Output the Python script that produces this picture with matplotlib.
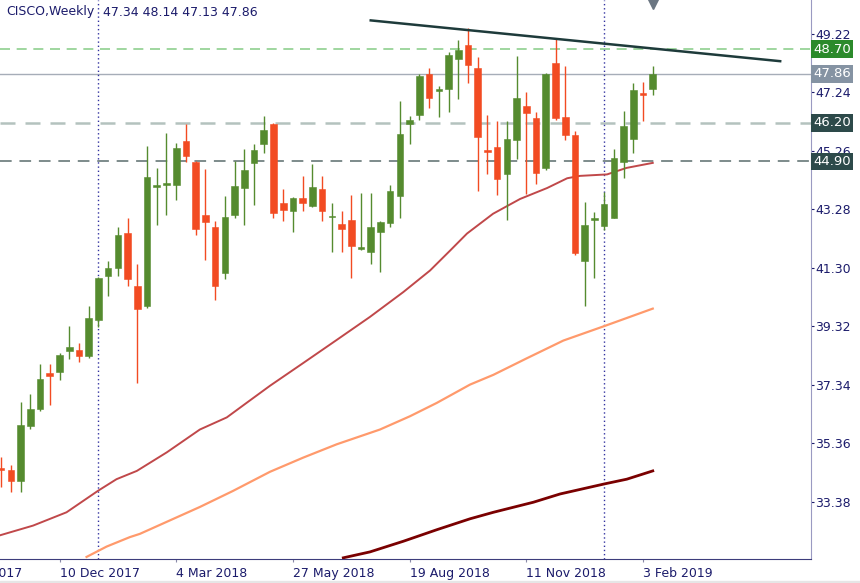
import matplotlib
matplotlib.use("Agg")
import matplotlib.pyplot as plt
import matplotlib.transforms as mtransforms
import numpy as np
import pandas as pd

# ---------------- data ----------------
symbol = "CISCO,Weekly"
last_ohlc = "47.34 48.14 47.13 47.86"
first_week = "2017-10-29"

opens = [34.49, 34.47, 34.08, 35.94, 36.54, 37.74, 37.79, 38.49, 38.52, 38.33,
         39.55, 41.02, 41.29, 42.47, 40.70, 40.01, 44.05, 44.10, 44.11, 45.59,
         44.88, 43.10, 42.67, 41.11, 43.09, 44.01, 44.83, 45.50, 46.15, 43.50,
         43.21, 43.67, 43.39, 43.96, 43.01, 42.78, 42.92, 41.93, 41.83, 42.50,
         42.80, 43.73, 46.16, 46.48, 47.87, 47.28, 47.34, 48.35, 48.85, 48.06,
         45.26, 45.40, 44.46, 45.63, 46.78, 46.37, 44.69, 48.24, 46.40, 45.81,
         41.52, 42.92, 42.70, 43.00, 44.87, 45.67, 47.18, 47.34]
highs = [34.89, 34.62, 36.77, 37.02, 38.05, 38.05, 38.43, 39.33, 38.77, 40.01,
         40.99, 41.54, 42.69, 42.99, 41.42, 45.41, 44.67, 45.85, 45.51, 46.16,
         44.90, 44.63, 42.89, 43.72, 44.93, 45.32, 45.48, 46.42, 46.19, 43.96,
         43.70, 44.41, 44.80, 44.41, 43.50, 43.22, 43.78, 43.83, 43.82, 42.89,
         44.11, 46.93, 46.42, 47.85, 48.05, 47.45, 48.61, 49.02, 49.41, 48.44,
         46.48, 46.25, 46.25, 48.47, 47.26, 46.56, 47.90, 49.08, 48.14, 45.94,
         43.51, 43.20, 43.87, 45.32, 46.61, 47.54, 47.57, 48.14]
lows = [33.88, 33.73, 33.73, 35.86, 36.45, 36.67, 37.51, 38.21, 38.12, 38.25,
        39.31, 40.34, 41.02, 40.68, 37.39, 39.95, 42.75, 43.10, 43.59, 44.88,
        42.42, 41.58, 40.20, 40.91, 43.00, 42.74, 43.42, 45.17, 42.98, 42.89,
        42.52, 43.21, 43.35, 42.89, 41.82, 41.82, 40.97, 41.90, 41.44, 41.15,
        42.67, 43.00, 45.49, 46.31, 46.72, 46.39, 46.57, 47.00, 47.55, 43.90,
        44.48, 43.77, 42.93, 44.98, 43.81, 44.13, 44.60, 46.31, 45.61, 41.75,
        40.01, 40.97, 42.58, 42.98, 44.35, 45.19, 46.25, 47.13]
closes = [34.46, 34.08, 35.97, 36.54, 37.55, 37.65, 38.34, 38.61, 38.33, 39.60,
          40.95, 41.30, 42.42, 40.91, 39.91, 44.38, 44.08, 44.13, 45.35, 45.08,
          42.60, 42.85, 40.68, 43.03, 44.07, 44.60, 45.28, 45.95, 43.16, 43.26,
          43.67, 43.49, 44.04, 43.21, 43.05, 42.60, 42.03, 42.02, 42.67, 42.84,
          43.89, 45.83, 46.29, 47.80, 47.04, 47.35, 48.49, 48.66, 48.15, 45.74,
          45.22, 44.29, 45.67, 47.04, 46.55, 44.52, 47.87, 46.38, 45.81, 41.79,
          42.76, 42.95, 43.45, 45.01, 46.11, 47.31, 47.16, 47.86]

# moving averages: (weeks since first candle, value)
ma_fast_weeks = [-0.14, 3.28, 6.72, 9.97, 11.86, 13.95, 17.04, 20.43, 23.2, 25.27,
                 27.64, 31.06, 34.5, 37.92, 41.35, 44.1, 46.15, 47.9, 50.58, 53.36,
                 56.14, 58.2, 59.5, 62.3, 64.3, 67.0]
ma_fast_vals = [32.25, 32.58, 33.03, 33.76, 34.15, 34.43, 35.06, 35.83, 36.24, 36.74,
                37.31, 38.08, 38.86, 39.64, 40.48, 41.21, 41.88, 42.46, 43.13, 43.63,
                44.00, 44.33, 44.41, 44.46, 44.68, 44.85]
ma_mid_weeks = [8.78, 10.84, 13.23, 14.26, 17.04, 20.43, 23.82, 27.64, 31.06, 34.5,
                38.95, 42.04, 44.79, 48.21, 50.61, 54.05, 57.81, 62.03, 67.0]
ma_mid_vals = [31.52, 31.87, 32.19, 32.30, 32.71, 33.21, 33.75, 34.40, 34.88, 35.33,
               35.83, 36.28, 36.73, 37.35, 37.68, 38.24, 38.84, 39.33, 39.92]
ma_slow_weeks = [35.18, 37.92, 41.35, 44.79, 48.21, 50.61, 54.72, 57.47, 62.03, 64.33, 67.0]
ma_slow_vals = [31.49, 31.69, 32.05, 32.44, 32.81, 33.03, 33.37, 33.65, 33.99, 34.15, 34.43]

trend_weeks = [38.0, 80.1]
trend_vals = [49.67, 48.29]

level_values = [48.70, 47.86, 46.20, 44.90]
level_labels = ["48.70", "47.86", "46.20", "44.90"]

separator_weeks = [10, 62]          # first weeks of 2018 and 2019
ytick_vals = [49.22, 47.24, 45.26, 43.28, 41.30, 39.32, 37.34, 35.36, 33.38]
xtick_weeks = [6, 18, 30, 42, 54, 66]
cut_tick_week = -6                  # label partly outside the left edge

# ---------------- figure ----------------
W, H = 860, 583
fig = plt.figure(figsize=(W / 100, H / 100), dpi=100)
fig.patch.set_facecolor("white")
ax = fig.add_axes([0, 1 - 559 / H, 811 / W, 559 / H])
ax.set_facecolor("white")

navy = "#1b1b6b"
green = "#558b2f"
red = "#f24b22"

x = np.arange(len(opens))
o = np.array(opens); h = np.array(highs); l = np.array(lows); c = np.array(closes)
up = c >= o
cols = np.where(up, green, red)

# wicks
ax.vlines(x, l, h, colors=cols, linewidth=1.0, zorder=3)
# bodies
bottoms = np.minimum(o, c)
heights = np.maximum(np.abs(c - o), 0.06)
ax.bar(x, heights, bottom=bottoms, width=0.68, color=cols, edgecolor=cols,
       linewidth=0.4, zorder=4)

# moving averages
ax.plot(ma_fast_weeks, ma_fast_vals, color="#c0484a", lw=1.4, zorder=2)
ax.plot(ma_mid_weeks, ma_mid_vals, color="#ff9a6c", lw=1.6, zorder=2)
ax.plot(ma_slow_weeks, ma_slow_vals, color="#7a0000", lw=2.0, zorder=2)

# trend line
ax.plot(trend_weeks, trend_vals, color="#1e3b3b", lw=1.8, zorder=5)

# horizontal levels
ax.axhline(level_values[0], color="#8fd08f", lw=1.2, ls=(0, (6, 4)), zorder=1)
ax.axhline(level_values[1], color="#a6adb8", lw=1.0, zorder=1)
ax.axhline(level_values[2], color="#b4c2be", lw=1.8, ls=(0, (6, 4)), zorder=1)
ax.axhline(level_values[3], color="#7d8b8b", lw=1.4, ls=(0, (6, 4)), zorder=1)

# period separators
for sw in separator_weeks:
    ax.axvline(sw, color="#3232a0", lw=1.0, ls=(0, (1, 2)), zorder=1)

# top marker (partially visible)
ax.plot([x[-1]], [50.36], marker="v", ms=13, color="#6b7682", clip_on=True, zorder=6)

# axes styling
for s in ["left", "top"]:
    ax.spines[s].set_visible(False)
ax.spines["right"].set_color("#9a9ac2")
ax.spines["bottom"].set_color("#3d3d7c")
ax.yaxis.tick_right()
ax.set_yticks(ytick_vals)
ax.set_yticklabels([f"{v:.2f}" for v in ytick_vals])
ax.tick_params(axis="y", direction="out", length=2.5, width=0.8, colors=navy,
               pad=0.5, labelsize=9)

start = pd.Timestamp(first_week)


def week_label(w):
    d = start + pd.Timedelta(weeks=w)
    return f"{d.day} {d.strftime('%b %Y')}"


ax.set_xticks(xtick_weeks)
ax.set_xticklabels([week_label(w) for w in xtick_weeks])
ax.tick_params(axis="x", direction="out", length=2.5, width=0.8, colors="#8a8aa8",
               labelcolor=navy, pad=3, labelsize=9)
for lab in ax.get_xticklabels():
    lab.set_ha("left")

ax.set_xlim(-0.12, 83.27)
ax.set_ylim(31.45, 50.36)

# the tick label that is cut by the left edge of the picture
xtrans = mtransforms.blended_transform_factory(ax.transData, ax.transAxes)
lab0 = ax.get_xticklabels()[0]
ax.text(cut_tick_week, 0, week_label(cut_tick_week), transform=xtrans
        + mtransforms.ScaledTranslation(0, -5.5 / 72, fig.dpi_scale_trans),
        ha="left", va="top", fontsize=9, color=navy, clip_on=False)

# price labels on the right axis
box_colors = ["#2b8a2b", "#8593a3", "#2d4a4a", "#2d4a4a"]
trans = mtransforms.blended_transform_factory(ax.transAxes, ax.transData)
for val, lab, bc in zip(level_values, level_labels, box_colors):
    ax.text(1.0 + 2 / 811, val, lab, transform=trans, ha="left", va="center",
            fontsize=9.5, color="white", zorder=10, clip_on=False,
            bbox=dict(boxstyle="square,pad=0.18", fc=bc, ec="none"))

# header texts
fig.text(6 / W, 1 - 12 / H, symbol, ha="left", va="center", fontsize=9, color=navy)
fig.text(103 / W, 1 - 12 / H, last_ohlc, ha="left", va="center", fontsize=9, color=navy)

# bottom light strip
fig.patches.append(plt.Rectangle((0, 0), 1, 2 / H, transform=fig.transFigure,
                                 color="#e6e6e6", zorder=0))

fig.savefig("out.png", dpi=100)
